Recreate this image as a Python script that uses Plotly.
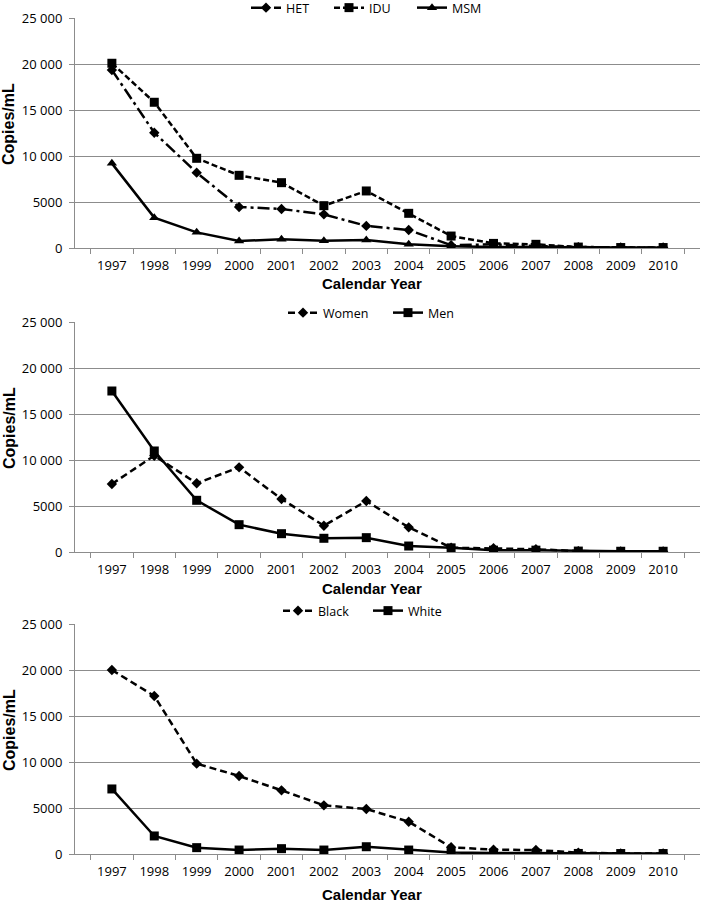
import plotly.graph_objects as go

years = [str(y) for y in range(1997, 2011)]

# Panel 1: transmission risk group
het = [19350, 12530, 8190, 4460, 4240, 3660, 2400, 1960, 300, 400, 200, 100, 50, 50]
idu = [20080, 15840, 9750, 7900, 7100, 4600, 6200, 3770, 1300, 500, 400, 100, 50, 50]
msm = [9200, 3300, 1700, 760, 950, 800, 870, 400, 200, 100, 100, 50, 30, 20]

# Panel 2: sex
women = [7390, 10470, 7470, 9200, 5760, 2860, 5540, 2680, 470, 400, 300, 100, 50, 50]
men = [17500, 10980, 5620, 2970, 1990, 1490, 1560, 650, 450, 200, 200, 100, 80, 80]

# Panel 3: race
black = [20000, 17180, 9820, 8480, 6920, 5290, 4890, 3510, 730, 470, 430, 150, 50, 50]
white = [7070, 1960, 690, 430, 580, 430, 790, 430, 150, 100, 80, 60, 50, 50]

ytickvals = [0, 5000, 10000, 15000, 20000, 25000]
yticktext = ["0", "5000", "10 000", "15 000", "20 000", "25 000"]

W, H = 701, 902
def py(p):
    return 1 - p / H

panels = [(18, 248), (322, 552), (624, 854)]
legend_y = [8, 313, 611]
legend_x = [246, 283, 278]
legend_ew = [38, 60, 45]
title_y = [283, 588, 894]

fig = go.Figure()

FONT = "Open Sans"
BLACK = "#000000"

def add(x_idx, name, vals, dash, symbol, msize, legend):
    fig.add_trace(go.Scatter(
        x=years, y=vals, name=name, mode="lines+markers",
        xaxis="x" if x_idx == 1 else f"x{x_idx}",
        yaxis="y" if x_idx == 1 else f"y{x_idx}",
        line=dict(color=BLACK, width=2.5, dash=dash),
        marker=dict(symbol=symbol, size=msize, color=BLACK),
        legend=legend,
    ))

add(1, "HET", het, "12px,4px,3px,4px", "diamond", 8, "legend")
add(1, "IDU", idu, "6px,3px", "square", 9, "legend")
add(1, "MSM", msm, "solid", "triangle-up", 9, "legend")
add(2, "Women", women, "7px,4px", "diamond", 8, "legend2")
add(2, "Men", men, "solid", "square", 9, "legend2")
add(3, "Black", black, "7px,4px", "diamond", 8, "legend3")
add(3, "White", white, "solid", "square", 9, "legend3")

layout = dict(
    width=W, height=H,
    margin=dict(l=0, r=0, t=0, b=0, autoexpand=False),
    paper_bgcolor="white", plot_bgcolor="white",
    font=dict(family=FONT, size=13, color="#000"),
    showlegend=True,
)

xdom = [75 / W, 700 / W]
annotations = []
for i, (top, bot) in enumerate(panels, start=1):
    xa = "xaxis" if i == 1 else f"xaxis{i}"
    ya = "yaxis" if i == 1 else f"yaxis{i}"
    layout[xa] = dict(
        domain=xdom, type="category", anchor="y" if i == 1 else f"y{i}",
        tickson="boundaries", ticks="outside", ticklen=5, tickcolor="#8c8c8c",
        showline=True, linecolor="#8c8c8c", linewidth=1,
        showgrid=False, tickfont=dict(family=FONT, size=13, color="#000"),
        ticklabelstandoff=5, fixedrange=True, automargin=False,
    )
    layout[ya] = dict(
        domain=[py(bot), py(top)], range=[0, 25000],
        anchor="x" if i == 1 else f"x{i}",
        tickvals=ytickvals, ticktext=yticktext,
        ticks="outside", ticklen=5, tickcolor="#8c8c8c",
        showline=True, linecolor="#8c8c8c", linewidth=1,
        showgrid=True, gridcolor="#8c8c8c", gridwidth=1,
        zeroline=False, tickfont=dict(family=FONT, size=13, color="#000"),
        ticklabelstandoff=4, automargin=False, fixedrange=True,
    )
    annotations.append(dict(
        text="<b>Copies/mL</b>", textangle=-90, xref="paper", yref="paper",
        x=9 / W, y=py((top + bot) / 2 - 9), showarrow=False,
        font=dict(family="Liberation Sans", size=16, color="#000"),
        xanchor="center", yanchor="middle",
    ))
    annotations.append(dict(
        text="<b>Calendar Year</b>", xref="paper", yref="paper",
        x=372 / W, y=py(title_y[i - 1]), showarrow=False,
        font=dict(family="Liberation Sans", size=15, color="#000"),
        xanchor="center", yanchor="middle",
    ))
    lg = "legend" if i == 1 else f"legend{i}"
    layout[lg] = dict(
        orientation="h", x=legend_x[i - 1] / W, xanchor="left",
        y=py(legend_y[i - 1]), yanchor="middle",
        font=dict(family=FONT, size=12.5, color="#000"),
        bgcolor="rgba(0,0,0,0)", entrywidth=legend_ew[i - 1],
    )

layout["annotations"] = annotations
fig.update_layout(**layout)

fig.write_html(
    "out.html",
    config={"displayModeBar": False},
    post_script="document.body.style.margin='0';document.body.style.overflow='hidden';",
)
